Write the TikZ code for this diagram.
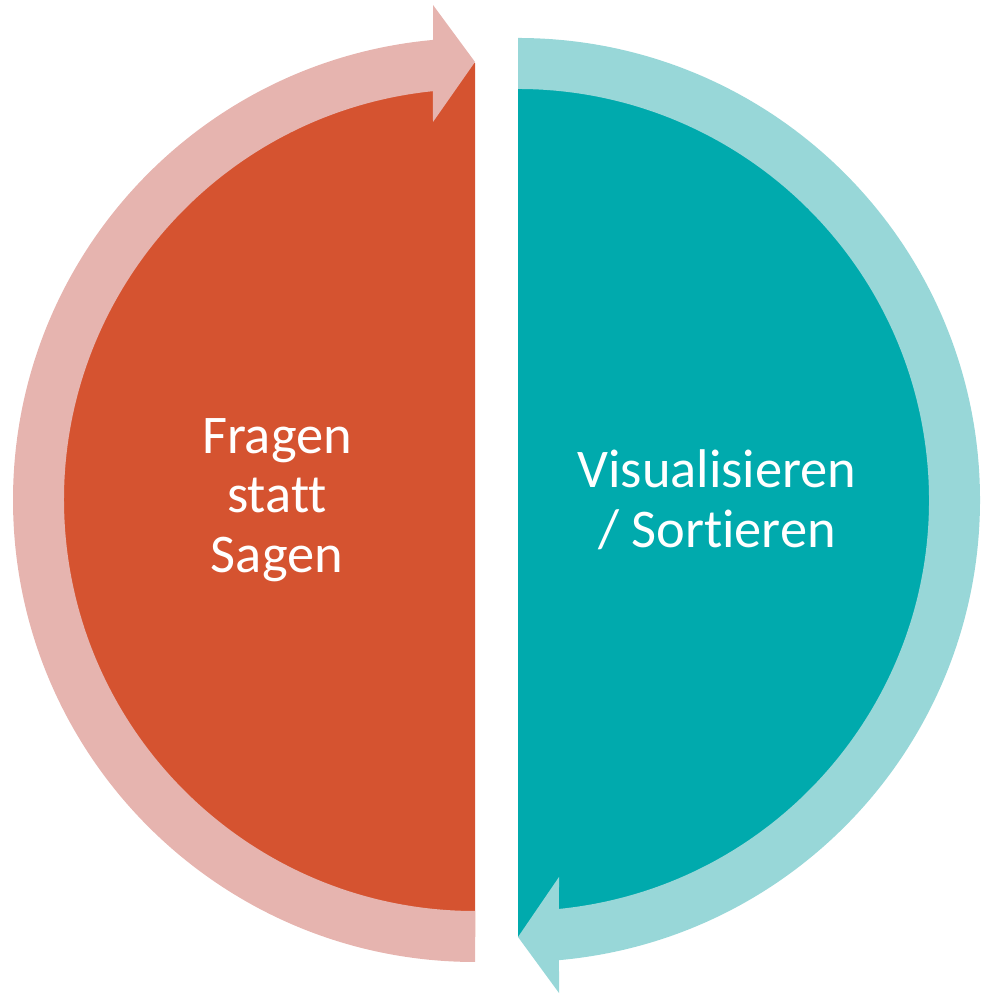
\documentclass[tikz,border=0pt]{standalone}
\usepackage{fontspec}
\setmainfont{Carlito}[RawFeature={-liga}]
\usepackage{tikz}
\definecolor{orangeL}{RGB}{213,83,48}
\definecolor{pinkL}{RGB}{230,180,175}
\definecolor{tealR}{RGB}{0,170,173}
\definecolor{lightR}{RGB}{152,215,216}

\begin{document}
\begin{tikzpicture}[
  txt/.style={text=white, align=center, font=\fontsize{15.5}{17}\selectfont}]
  \useasboundingbox (0,0) rectangle (9.8,9.94);
  \fill[orangeL] (4.75,0.57) arc[start angle=-90, end angle=-270, radius=4.37] -- cycle;
  \fill[tealR] (5.18,9.31) arc[start angle=90, end angle=-90, radius=4.37] -- cycle;
  \fill[pinkL] (4.33,9.89) -- (4.75,9.32) -- (4.33,8.72)
    -- ([shift={(95.9:4.11)}]4.75,4.94) arc[start angle=95.9, end angle=270, radius=4.11]
    -- ++(0,-0.51) arc[start angle=270, end angle=95.2, radius=4.62] -- cycle;
  \fill[lightR] (5.59,0.01) -- (5.18,0.57) -- (5.59,1.17)
    -- ([shift={(-84.28:4.11)}]5.18,4.94) arc[start angle=-84.28, end angle=90, radius=4.11]
    -- ++(0,0.51) arc[start angle=90, end angle=-84.91, radius=4.62] -- cycle;
  \node[txt] (fragen) at (2.77,4.94) {Fragen\\statt\\Sagen};
  \node[txt] (visual) at (7.17,4.94) {Visualisieren\\/ Sortieren};
\end{tikzpicture}
\end{document}
